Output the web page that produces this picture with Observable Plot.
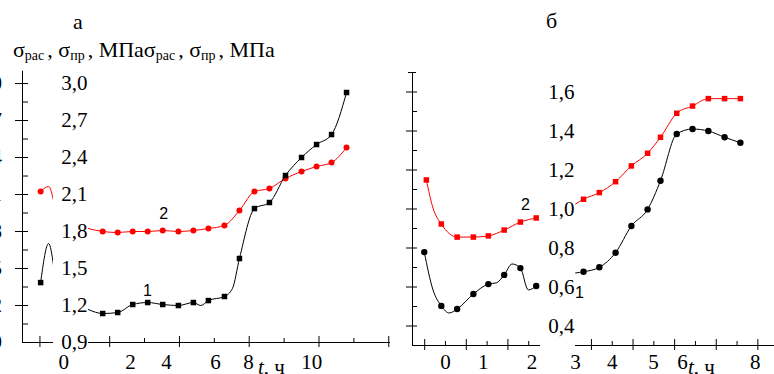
<!DOCTYPE html>
<html><head><meta charset="utf-8">
<script src="https://cdn.jsdelivr.net/npm/d3@7"></script>
<script src="https://cdn.jsdelivr.net/npm/@observablehq/plot@0.6"></script>
<style>
body{margin:0;background:#fff}
#fig{position:relative;width:774px;height:374px;overflow:hidden;background:#fff;color:#000}
#fig svg{position:absolute;top:0;font-family:"Liberation Serif","Times New Roman",serif}
#fig svg g.serif text{font-family:"Liberation Serif","Times New Roman",serif !important}
#fig svg g.sans text{font-family:"Liberation Sans",Arial,sans-serif !important}
.lbl{position:absolute;white-space:nowrap;line-height:1;font-family:"Liberation Serif","Times New Roman",serif}
.lbl .s{font-size:14px;position:relative;top:3px;margin-right:3px}
</style></head><body><div id="fig"></div>
<script>
// ---------- Panel а (front chart) ----------
const timeRedA   = [1.39, 1.80, 2.23, 2.66, 3.09, 3.52, 3.97, 4.40, 4.83, 5.29, 5.72, 6.15, 6.58, 7.04, 7.50, 7.93, 8.36, 8.79];
const redA       = [1.824, 1.800, 1.792, 1.800, 1.800, 1.808, 1.800, 1.808, 1.824, 1.849, 1.970, 2.124, 2.149, 2.230, 2.286, 2.327, 2.359, 2.481];
const markRedA   = [0, 1, 1, 1, 1, 1, 1, 1, 1, 1, 1, 1, 1, 1, 1, 1, 1, 1];
const timeBlackA = [1.39, 1.80, 2.23, 2.66, 3.09, 3.52, 3.97, 4.40, 4.61, 4.83, 5.29, 5.52, 5.72, 6.15, 6.58, 7.04, 7.50, 7.93, 8.36, 8.79];
const blackA     = [1.167, 1.135, 1.143, 1.208, 1.224, 1.208, 1.200, 1.224, 1.200, 1.240, 1.273, 1.338, 1.581, 1.986, 2.035, 2.254, 2.400, 2.505, 2.586, 2.927];
const markBlackA = [0, 1, 1, 1, 1, 1, 1, 1, 0, 1, 1, 0, 1, 1, 1, 1, 1, 1, 1, 1];
// Panel а (back chart fragments)
const fragTimeA  = [0.02, 0.25, 0.39];
const fragRedA   = [2.124, 2.165, 2.051];
const fragBlackA = [1.386, 1.703, 1.524];
const fragMarkA  = [1, 0, 0];
// Panel а ticks / labels
const yMajorA = [0.9, 1.2, 1.5, 1.8, 2.1, 2.4, 2.7, 3.0];
const yMinorA = [1.05, 1.35, 1.65, 1.95, 2.25, 2.55, 2.85];
const xMajorA = [0, 2, 4, 6, 8, 10];
const xMinorA = [1, 3, 5, 7, 9];
const xLabelsA = ["0", "2", "4", "6", "8", "10"];
const xLabelAtA = [0.68, 2.60, 3.63, 5.03, 5.98, 7.79];
const curveLabelsA = [{t: 3.55, v: 1.946, text: "2"}, {t: 3.08, v: 1.322, text: "1"}];

// ---------- Panel б ----------
const timeLeftRedB   = [-0.46, -0.30, -0.10, 0.28, 0.67, 1.03, 1.41, 1.80, 2.18];
const leftRedB       = [1.149, 1.005, 0.923, 0.856, 0.856, 0.862, 0.892, 0.933, 0.954];
const markLeftRedB   = [1, 0, 1, 1, 1, 1, 1, 1, 1];
const timeLeftBlackB = [-0.51, -0.30, -0.10, 0.09, 0.28, 0.67, 1.03, 1.22, 1.41, 1.60, 1.80, 1.99, 2.18];
const leftBlackB     = [0.779, 0.585, 0.503, 0.467, 0.487, 0.564, 0.615, 0.621, 0.662, 0.718, 0.697, 0.585, 0.605];
const markLeftBlackB = [1, 0, 1, 0, 1, 1, 1, 0, 1, 0, 1, 0, 1];
const timeRightB  = [3.12, 3.31, 3.69, 4.08, 4.46, 4.85, 5.16, 5.55, 5.93, 6.31, 6.70, 7.08];
const rightRedB   = [1.026, 1.050, 1.084, 1.140, 1.221, 1.286, 1.368, 1.491, 1.528, 1.566, 1.566, 1.566];
const rightBlackB = [0.672, 0.678, 0.701, 0.776, 0.913, 0.998, 1.145, 1.385, 1.410, 1.400, 1.368, 1.340];
const markRightB  = [0, 1, 1, 1, 1, 1, 1, 1, 1, 1, 1, 1];
const yMajorB = [0.4, 0.6, 0.8, 1.0, 1.2, 1.4, 1.6];
const yMinorB = [0.5, 0.7, 0.9, 1.1, 1.3, 1.5];
const yCapB = [1.7];
const xMajorB = [-0.5, 0.5, 1.5, 2.5, 3.5, 4.5, 5.5, 6.5, 7.5];
const xMinorB = [0, 1, 2, 3, 4, 5, 6, 7];
const xLabelsB = ["0", "1", "2", "3", "4", "5", "6", "8"];
const xLabelAtB = [0, 0.91, 2.08, 3.12, 4.0, 4.99, 5.69, 7.44];
const curveLabelsB = [{t: 1.92, v: 1.021, text: "2"}, {t: 3.21, v: 0.569, text: "1"}];

// ---------- helpers ----------
const rows = (t, v, m) => t.map((x, i) => ({t: x, v: v[i], m: m[i]}));
const fmt = d => d.toFixed(1).replace(".", ",");
const SERIF = "Liberation Serif";
const SANS = "Liberation Sans";
const inDom = (dom) => (d) => d >= dom[0] - 1e-9 && d <= dom[1] + 1e-9;
function hTicks(vals, fw, left, right) {
  return Plot.tickY(vals, {y: d => d, insetLeft: -left, insetRight: fw - right, stroke: "black", strokeWidth: 1});
}
function vTicks(vals, fh, up, down) {
  return Plot.tickX(vals, {x: d => d, insetTop: fh - up, insetBottom: -down, stroke: "black", strokeWidth: 1});
}
function series(data, color, symbol, r) {
  return [
    Plot.line(data, {x: "t", y: "v", stroke: color, strokeWidth: 1, curve: "monotone-x"}),
    Plot.dot(data.filter(d => d.m), {x: "t", y: "v", symbol, r, fill: color, stroke: null})
  ];
}
const serifText = (data, opts) => Plot.text(data, {fontSize: 21, fontFamily: SERIF, className: "serif", ...opts});
const sansText = (data, opts) => Plot.text(data, {fontSize: 16, fontFamily: SANS, className: "sans", ...opts});
const fig = document.getElementById("fig");
function place(svg, left) { svg.style.left = left + "px"; fig.appendChild(svg); }

// ---------- Panel а back chart ----------
{
  const W = 390, H = 374, mL = 22, mR = 0, mT = 70.7, mB = 32;
  const xd = [-0.5, 10.05], yd = [0.9, 3.1];
  const fw = W - mL - mR, fh = H - mT - mB;
  const svg = Plot.plot({
    width: W, height: H, marginLeft: mL, marginRight: mR, marginTop: mT, marginBottom: mB,
    x: {domain: xd, axis: null}, y: {domain: yd, axis: null},
    style: {background: "white", fontFamily: SERIF},
    marks: [
      Plot.ruleX([xd[0]], {stroke: "black"}),
      Plot.ruleY([yd[0]], {stroke: "black"}),
      hTicks(yMajorA.filter(d => d > yd[0]), fw, 7, 6),
      hTicks(yMinorA, fw, 0, 6),
      vTicks(xMajorA, fh, 6, 5),
      vTicks(xMinorA, fh, 4, 0),
      serifText(yMajorA, {y: d => d, text: fmt, frameAnchor: "left", textAnchor: "end", dx: -20.5}),
      ...series(rows(fragTimeA, fragRedA, fragMarkA), "#ff0000", "circle", 3),
      ...series(rows(fragTimeA, fragBlackA, fragMarkA), "black", "square", 3.1)
    ]
  });
  place(svg, 0);
}
// ---------- Panel а front chart ----------
{
  const W = 337, H = 374, mL = 35, mR = 0, mT = 83, mB = 32;
  const xd = [1.393, 10.05], yd = [0.9, 3.0];
  const fw = W - mL - mR, fh = H - mT - mB;
  const svg = Plot.plot({
    width: W, height: H, marginLeft: mL, marginRight: mR, marginTop: mT, marginBottom: mB,
    x: {domain: xd, axis: null}, y: {domain: yd, axis: null},
    style: {background: "white", fontFamily: SERIF},
    marks: [
      Plot.ruleY([yd[0]], {stroke: "black"}),
      vTicks(xMajorA.filter(inDom(xd)), fh, 6, 5),
      vTicks(xMinorA.filter(inDom(xd)), fh, 4, 0),
      serifText(yMajorA, {y: d => d, text: fmt, frameAnchor: "left", textAnchor: "end", dx: -1}),
      serifText(xLabelsA, {x: (d, i) => xLabelAtA[i], text: d => d, frameAnchor: "bottom", dy: 26}),
      ...series(rows(timeRedA, redA, markRedA), "#ff0000", "circle", 3),
      ...series(rows(timeBlackA, blackA, markBlackA), "black", "square", 3.1),
      sansText(curveLabelsA, {x: "t", y: "v", text: "text"})
    ]
  });
  place(svg, 53);
}
// ---------- Panel б back chart ----------
{
  const W = 150, H = 374, mL = 22, mR = 0, mT = 72, mB = 29;
  const xd = [-0.793, 2.283], yd = [0.3, 1.7];
  const fw = W - mL - mR, fh = H - mT - mB;
  const labs = xLabelsB.map((d, i) => ({d, t: xLabelAtB[i]})).filter(o => o.t < xd[1]);
  const svg = Plot.plot({
    width: W, height: H, marginLeft: mL, marginRight: mR, marginTop: mT, marginBottom: mB,
    x: {domain: xd, axis: null}, y: {domain: yd, axis: null},
    style: {background: "white", fontFamily: SERIF},
    marks: [
      Plot.ruleX([xd[0]], {stroke: "black"}),
      Plot.ruleY([yd[0]], {stroke: "black"}),
      hTicks(yMajorB, fw, 6, 5),
      hTicks(yMinorB, fw, 0, 5),
      hTicks(yCapB, fw, 4, 4),
      vTicks(xMajorB.filter(inDom(xd)), fh, 6, 5),
      vTicks(xMinorB.filter(inDom(xd)), fh, 4, 0),
      serifText(labs, {x: "t", text: "d", frameAnchor: "bottom", dy: 23}),
      ...series(rows(timeLeftRedB, leftRedB, markLeftRedB), "#ff0000", "square", 3.1),
      ...series(rows(timeLeftBlackB, leftBlackB, markLeftBlackB), "black", "circle", 3.2),
      sansText(curveLabelsB.filter(d => d.t < xd[1]), {x: "t", y: "v", text: "text"})
    ]
  });
  place(svg, 390);
}
// ---------- Panel б front chart ----------
{
  const W = 234, H = 374, mL = 35, mR = 0, mT = 72, mB = 29;
  const xd = [3.117, 7.9], yd = [0.3, 1.7];
  const fw = W - mL - mR, fh = H - mT - mB;
  const labs = xLabelsB.map((d, i) => ({d, t: xLabelAtB[i]})).filter(o => o.t > 2.5);
  const svg = Plot.plot({
    width: W, height: H, marginLeft: mL, marginRight: mR, marginTop: mT, marginBottom: mB,
    x: {domain: xd, axis: null}, y: {domain: yd, axis: null},
    style: {background: "white", fontFamily: SERIF},
    marks: [
      Plot.ruleY([yd[0]], {stroke: "black"}),
      vTicks(xMajorB.filter(inDom(xd)), fh, 6, 5),
      vTicks(xMinorB.filter(inDom(xd)), fh, 4, 0),
      serifText(yMajorB, {y: d => d, text: fmt, frameAnchor: "left", textAnchor: "end", dx: -1}),
      serifText(labs, {x: "t", text: "d", frameAnchor: "bottom", dy: 23}),
      ...series(rows(timeRightB, rightRedB, markRightB), "#ff0000", "square", 3.1),
      ...series(rows(timeRightB, rightBlackB, markRightB), "black", "circle", 3.2),
      sansText(curveLabelsB.filter(d => d.t > 2.5), {x: "t", y: "v", text: "text"})
    ]
  });
  place(svg, 540);
}
// ---------- titles and axis titles ----------
function addLabel(html, left, baseline, size) {
  const d = document.createElement("div");
  d.className = "lbl";
  d.style.left = left + "px";
  d.style.top = (baseline - 0.8375 * size) + "px";
  d.style.fontSize = size + "px";
  d.innerHTML = html;
  fig.appendChild(d);
}
const yTitle = "σ<span class='s'>рас</span>, σ<span class='s'>пр</span>, МПа";
addLabel("а", 73, 29, 22);
addLabel("б", 546, 28, 22);
addLabel(yTitle + yTitle, 13, 57, 22);
addLabel("<i>t</i>, ч", 258, 375, 21);
addLabel("<i>t</i>, ч", 688, 375, 21);
</script></body></html>
